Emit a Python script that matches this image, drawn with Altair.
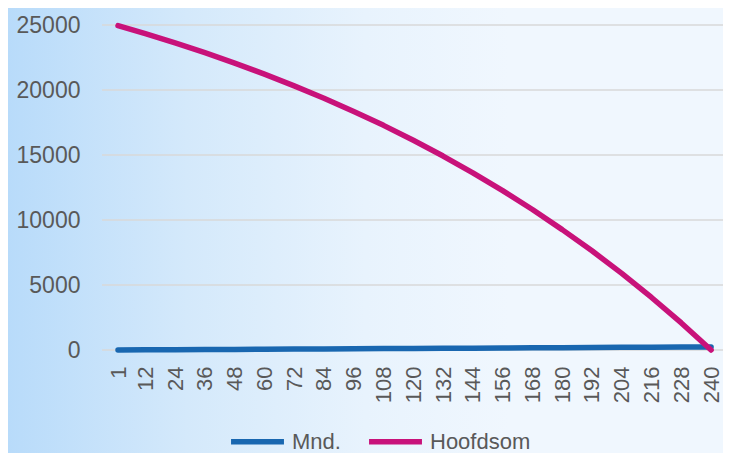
import altair as alt
import pandas as pd

months = [1, 12, 24, 36, 48, 60, 72, 84, 96, 108, 120, 132, 144, 156, 168, 180, 192, 204, 216, 228, 240]
mnd = [1, 12, 24, 36, 48, 60, 72, 84, 96, 108, 120, 132, 144, 156, 168, 180, 192, 204, 216, 228, 240]
hoofdsom = [24950, 24330, 23620, 22870, 22070, 21220, 20320, 19370, 18350, 17280, 16130,
            14920, 13630, 12260, 10810, 9260, 7630, 5890, 4040, 2080, 0]
series_names = ["Mnd.", "Hoofdsom"]
series_colors = ["#1967b0", "#c8127a"]
y_ticks = [0, 5000, 10000, 15000, 20000, 25000]

rows = []
for m, v in zip(months, mnd):
    rows.append({"Maand": m, "Waarde": v, "Reeks": "Mnd."})
for m, v in zip(months, hoofdsom):
    rows.append({"Maand": m, "Waarde": v, "Reeks": "Hoofdsom"})
df = pd.DataFrame(rows)

W, H = 621, 342
PAD_L, PAD_B = 94, 103
FONT = "Liberation Sans"
TXT = "#595959"

xscale = alt.Scale(domain=[-5.45, 244.8], nice=False, zero=False)
yscale = alt.Scale(domain=[0, 26308], nice=False)

yaxis = alt.Axis(values=y_ticks, grid=False, zindex=1, format="d",
                 domain=False, ticks=False, labelPadding=22, labelFontSize=23,
                 labelColor=TXT, labelFont=FONT, title=None)

bg = alt.Chart(alt.Data(values=[{}])).mark_rect(
    fill=alt.Gradient(
        gradient="linear",
        stops=[
            alt.GradientStop(color="#b8dbfa", offset=0),
            alt.GradientStop(color="#d4e9fb", offset=0.25),
            alt.GradientStop(color="#e8f3fd", offset=0.5),
            alt.GradientStop(color="#f0f7fe", offset=0.7),
            alt.GradientStop(color="#f0f7fe", offset=1),
        ],
        x1=0, x2=1, y1=0, y2=0,
    )
).encode(
    x=alt.value(-PAD_L), x2=alt.value(W), y=alt.value(0), y2=alt.value(H + PAD_B)
)

grid = alt.Chart(pd.DataFrame({"Waarde": y_ticks})).mark_rule(color="#d9d9d9", strokeWidth=1.5).encode(
    y=alt.Y("Waarde:Q", scale=yscale, axis=yaxis)
)

lines = alt.Chart(df).mark_line(strokeWidth=5.5, strokeCap="round", strokeJoin="round").encode(
    x=alt.X("Maand:Q", scale=xscale,
            axis=alt.Axis(values=months, labelAngle=270, labelFontSize=22, labelColor=TXT,
                          labelFont=FONT, ticks=False, domain=False, grid=False, zindex=1,
                          labelPadding=16, title=None, labelFlush=False, labelOverlap=False)),
    y=alt.Y("Waarde:Q", scale=yscale, axis=yaxis),
    color=alt.Color("Reeks:N",
                    scale=alt.Scale(domain=series_names, range=series_colors),
                    legend=alt.Legend(orient="none", legendX=126, legendY=404, direction="horizontal",
                                      title=None, symbolType="stroke", symbolStrokeWidth=5.5,
                                      symbolSize=2800, labelFontSize=22, labelColor=TXT,
                                      labelFont=FONT, labelOffset=5, columnPadding=17, padding=0)),
    order=alt.Order("Maand:Q"),
    detail="Reeks:N",
)

chart = alt.layer(bg, grid, lines).properties(
    width=W, height=H,
    autosize=alt.AutoSizeParams(type="none"),
    padding={"left": PAD_L, "top": 0, "right": 0, "bottom": PAD_B},
    background="#f0f7fe",
).configure_view(strokeWidth=0)

chart.save("out.html", embed_options={"renderer": "svg", "actions": False})
